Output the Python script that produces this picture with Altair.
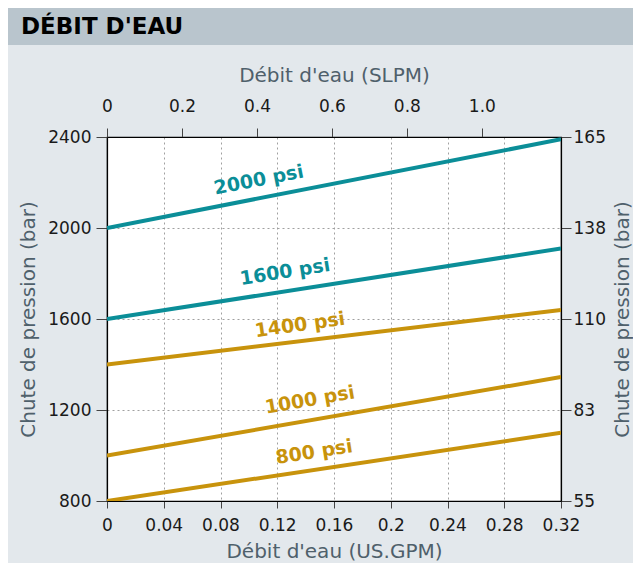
import altair as alt
import pandas as pd

# ---- data ----
series = ["2000 psi", "1600 psi", "1400 psi", "1000 psi", "800 psi"]
gpm_start = [0.0, 0.0, 0.0, 0.0, 0.0]
gpm_end = [0.32, 0.32, 0.32, 0.32, 0.32]
psi_start = [2000, 1600, 1400, 1000, 800]
psi_end = [2390, 1910, 1640, 1345, 1100]
series_colors = ["#0b8e98", "#0b8e98", "#c8930c", "#c8930c", "#c8930c"]

label_gpm = [0.107, 0.1255, 0.136, 0.143, 0.146]
label_psi = [2211, 1807, 1574, 1244, 1015]
label_angle = [349, 351, 352, 350, 351]

gpm_ticks = [0, 0.04, 0.08, 0.12, 0.16, 0.2, 0.24, 0.28, 0.32]
slpm_ticks = [0, 0.2, 0.4, 0.6, 0.8, 1.0]
psi_ticks = [800, 1200, 1600, 2000, 2400]
bar_labels = ["55", "83", "110", "138", "165"]

title_text = "DÉBIT D'EAU"
x_title = "Débit d'eau (US.GPM)"
x2_title = "Débit d'eau (SLPM)"
y_title = "Chute de pression (bar)"

GPM_DOMAIN = [0, 0.32]
SLPM_DOMAIN = [0, 0.32 * 3.785]
PSI_DOMAIN = [800, 2400]

FONT = "DejaVu Sans"
TITLE_COLOR = "#4f606b"
LABEL_COLOR = "#1a1a1a"

rows = []
for s, x0, x1, y0, y1 in zip(series, gpm_start, gpm_end, psi_start, psi_end):
    rows.append({"series": s, "gpm": x0, "psi": y0})
    rows.append({"series": s, "gpm": x1, "psi": y1})
lines_df = pd.DataFrame(rows)
labels_df = pd.DataFrame({"series": series, "gpm": label_gpm, "psi": label_psi, "angle": label_angle})

xs = alt.Scale(domain=GPM_DOMAIN, nice=False, zero=False)
ys = alt.Scale(domain=PSI_DOMAIN, nice=False, zero=False)
color = alt.Color("series:N", scale=alt.Scale(domain=series, range=series_colors), legend=None)

common = dict(
    domain=True, domainColor="#000000", domainWidth=1.2,
    tickColor="#444444", labelFontSize=17, labelColor=LABEL_COLOR, labelFont=FONT,
    titleFontSize=20, titleFontWeight="normal", titleColor=TITLE_COLOR, titleFont=FONT,
    labelFlush=False,
)

lines = alt.Chart(lines_df).mark_line(strokeWidth=4, clip=True).encode(
    x=alt.X("gpm:Q", scale=xs, axis=alt.Axis(
        orient="bottom", values=gpm_ticks, format=".2~f", title=x_title,
        grid=True, gridDash=[2, 3], gridColor="#a0a0a0", gridWidth=1,
        tickSize=7, labelPadding=9, titlePadding=8, **common)),
    y=alt.Y("psi:Q", scale=ys, axis=alt.Axis(
        orient="left", values=psi_ticks, format="d", title=y_title,
        grid=True, gridDash=[2, 3], gridColor="#a0a0a0", gridWidth=1,
        tickSize=11, labelPadding=5, titlePadding=9, **common)),
    color=color,
    detail="series:N",
)

labels = alt.Chart(labels_df).mark_text(fontSize=19, fontWeight="bold", font=FONT).encode(
    x=alt.X("gpm:Q", scale=xs, axis=None),
    y=alt.Y("psi:Q", scale=ys, axis=None),
    text="series:N",
    angle=alt.Angle("angle:Q", scale=None),
    color=color,
)

top_df = pd.DataFrame({"slpm": slpm_ticks, "psi": [800] * len(slpm_ticks)})
top_axis = alt.Chart(top_df).mark_point(opacity=0).encode(
    x=alt.X("slpm:Q", scale=alt.Scale(domain=SLPM_DOMAIN, nice=False, zero=False), axis=alt.Axis(
        orient="top", values=slpm_ticks, title=x2_title,
        labelExpr="datum.value == 0 ? '0' : format(datum.value, '.1f')",
        grid=False, tickSize=9, labelPadding=13, titlePadding=12, **common)),
    y=alt.Y("psi:Q", scale=ys, axis=None),
)

bar_expr = ""
for p, b in zip(psi_ticks, bar_labels):
    bar_expr += f"datum.value == {p} ? '{b}' : "
bar_expr += "''"

right_df = pd.DataFrame({"gpm": [0] * len(psi_ticks), "psi2": psi_ticks})
right_axis = alt.Chart(right_df).mark_point(opacity=0).encode(
    x=alt.X("gpm:Q", scale=xs, axis=None),
    y=alt.Y("psi2:Q", scale=ys, axis=alt.Axis(
        orient="right", values=psi_ticks, title=y_title, labelExpr=bar_expr,
        grid=False, tickSize=10, labelPadding=2,
        titleAngle=270, titleBaseline="top", titlePadding=7, **common)),
)

one = pd.DataFrame({"t": [title_text]})
header = alt.Chart(one).mark_rect(color="#b9c5cd", clip=False).encode(
    x=alt.value(-99), x2=alt.value(526), y=alt.value(-129), y2=alt.value(-92)
)
header_text = alt.Chart(one).mark_text(
    align="left", baseline="alphabetic", fontSize=23, fontWeight="bold", font=FONT,
    color="#000000", clip=False
).encode(x=alt.value(-86), y=alt.value(-103), text="t:N")

chart = alt.layer(header, header_text, lines, labels, top_axis, right_axis).resolve_scale(
    x="independent", y="independent"
).properties(
    width=454, height=364,
    autosize=alt.AutoSizeParams(type="none"),
    padding={"left": 99, "top": 129, "right": 72, "bottom": 62},
    background="#e3e8ec",
).configure_view(fill="#ffffff", stroke="#000000", strokeWidth=1.2)

chart.save("out.html", embed_options={"renderer": "svg", "actions": False})
